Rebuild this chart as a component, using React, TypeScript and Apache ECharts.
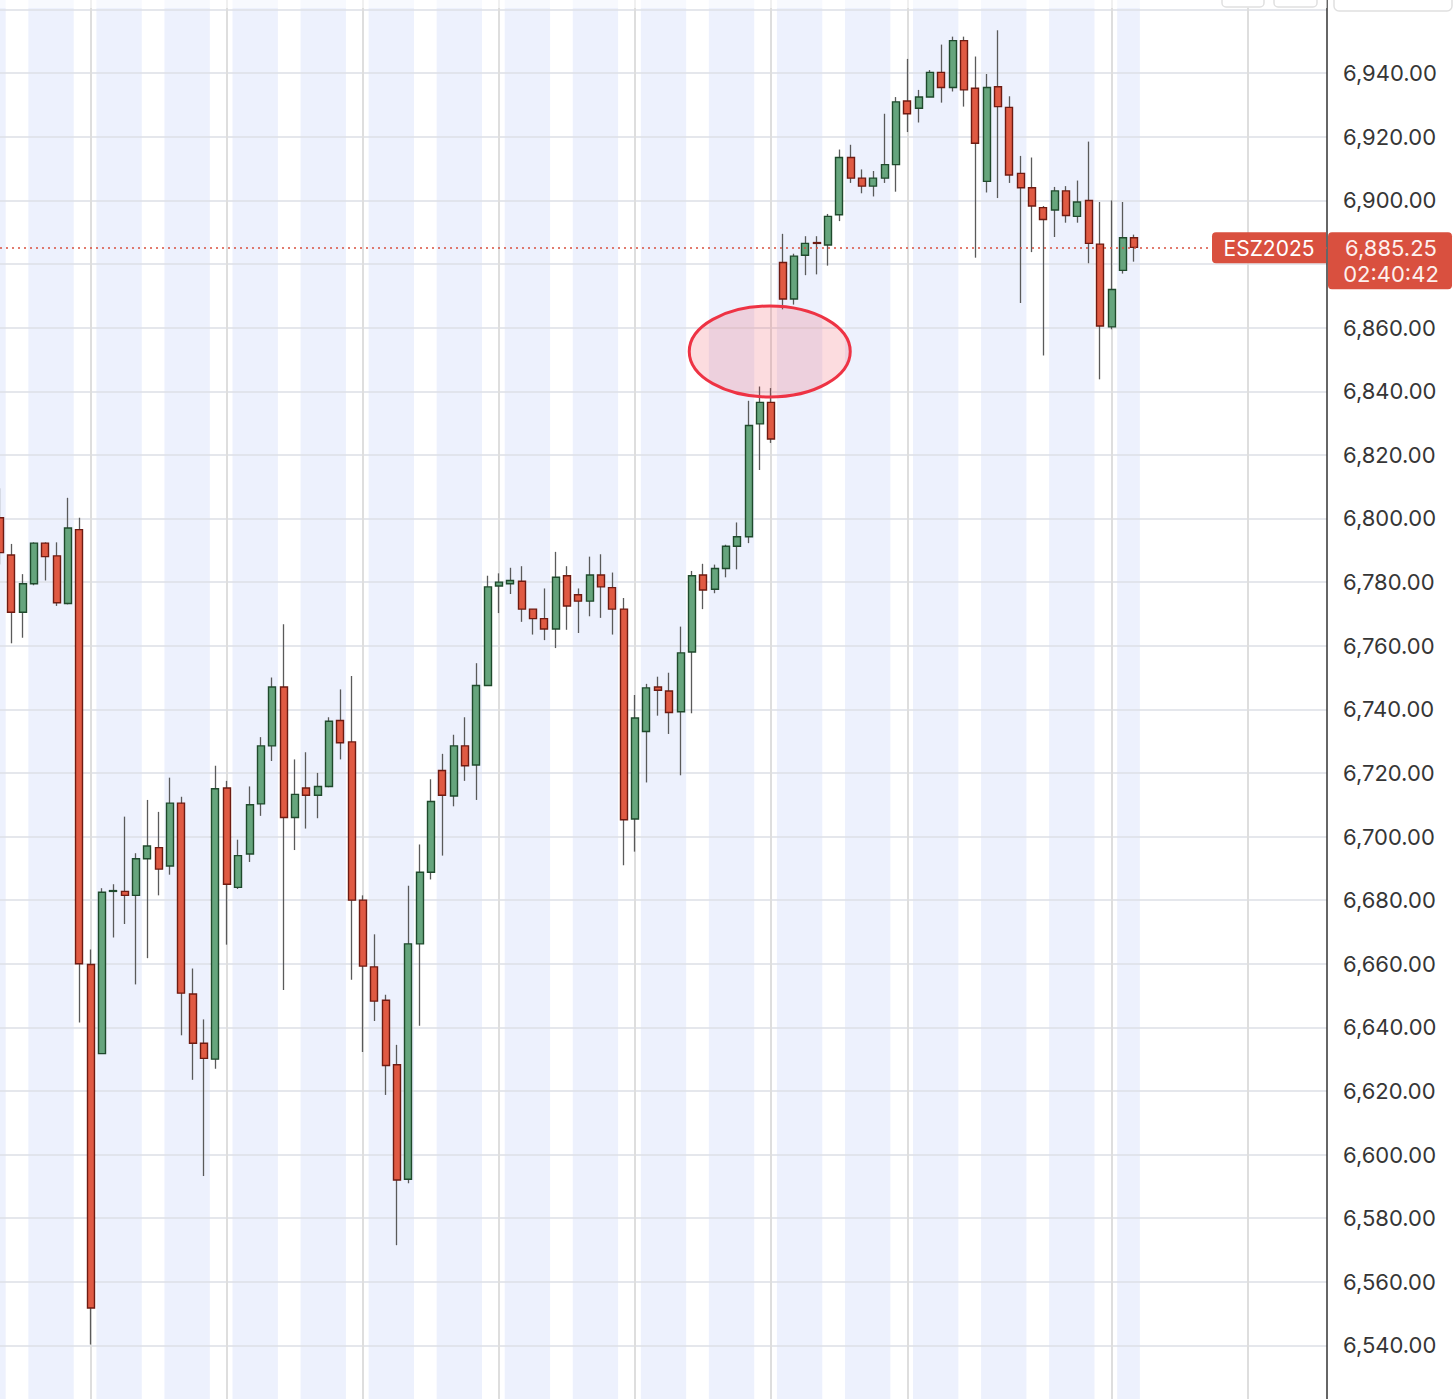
import React, { useEffect, useRef } from "react";
import * as echarts from "echarts";

// ---- data (4h candles, ESZ2025) ----
const opens = [
  6800.25, 6788.5, 6770.5, 6779.5, 6792.25, 6788.25, 6773.25, 6796.5, 6659.75, 6631.75,
  6682.75, 6682.75, 6681.5, 6693, 6696.5, 6690.75, 6710.5, 6650.5, 6635, 6630,
  6715.25, 6684, 6694.5, 6710.25, 6728.5, 6747, 6706, 6715.25, 6713, 6715.75,
  6736.5, 6729.75, 6680, 6659, 6648.5, 6628.25, 6592.25, 6666.25, 6688.75, 6720.75,
  6712.75, 6728.5, 6722.5, 6747.5, 6778.75, 6779.5, 6780.25, 6771.5, 6768.5, 6765.25,
  6782, 6776, 6774, 6782.25, 6778.25, 6771.5, 6705.5, 6733, 6747, 6745.75,
  6739.25, 6758, 6782.25, 6777.75, 6784.25, 6791.25, 6794.25, 6829.75, 6836.5, 6880.5,
  6869, 6882.75, 6886.75, 6886, 6895.5, 6913.5, 6907, 6904.5, 6907, 6911.25,
  6931.25, 6929, 6932.5, 6940.25, 6935.5, 6950.25, 6935.25, 6906, 6935.75, 6929.25,
  6908.5, 6904, 6897.75, 6897, 6903, 6895, 6900, 6886.25, 6860.25, 6878,
  6888.25,
];
const closes = [
  6789.25, 6770.5, 6779.5, 6792.25, 6788, 6773.5, 6797, 6660, 6551.75, 6682.5,
  6683, 6681.5, 6693, 6697, 6689.75, 6710.5, 6650.75, 6635, 6630.25, 6715,
  6685, 6694, 6710, 6728.5, 6747, 6706, 6713.25, 6713, 6715.75, 6736.25,
  6729.5, 6680, 6659.25, 6648.25, 6628, 6592, 6666.25, 6688.75, 6711, 6713,
  6728.5, 6722.25, 6747.5, 6778.5, 6780, 6780.5, 6771.5, 6768.5, 6765.25, 6781.5,
  6772.5, 6774, 6782.25, 6778.5, 6771.5, 6705.25, 6737.25, 6746.75, 6746, 6739,
  6757.75, 6782, 6777.5, 6784.25, 6791.25, 6794.25, 6829.25, 6836.5, 6825, 6869,
  6882.5, 6886.5, 6886.5, 6895, 6913.5, 6907, 6904.5, 6907, 6911.25, 6931,
  6927.25, 6932.5, 6940.25, 6935.5, 6950.25, 6934.75, 6918, 6935.5, 6929.5, 6908,
  6904, 6898.25, 6894, 6903, 6895.25, 6899.5, 6886.5, 6860.5, 6872, 6888.25,
  6885.25,
];
const lows = [
  6785.5, 6760.75, 6762.5, 6779, 6780.5, 6772.5, 6773, 6641.5, 6540.25, 6631.75,
  6668.25, 6672.5, 6653.5, 6661.75, 6681.5, 6688, 6637.5, 6623.5, 6593.25, 6627,
  6666, 6683.5, 6692, 6706.5, 6723.75, 6651.75, 6695.75, 6702.5, 6705.75, 6715.5,
  6724.25, 6655, 6632.25, 6642, 6618.75, 6571.5, 6591, 6640.5, 6686.5, 6694,
  6709.5, 6717.5, 6711.5, 6747.5, 6770.25, 6776.25, 6767.5, 6763.5, 6761.75, 6759.25,
  6765, 6764, 6769.25, 6768.75, 6763.5, 6691, 6695.25, 6717, 6738, 6732.25,
  6719.25, 6738.75, 6771.5, 6776.5, 6781.5, 6784, 6792.25, 6815.25, 6823.75, 6865.75,
  6867.25, 6876.5, 6876.75, 6879.5, 6893.5, 6905.5, 6902.25, 6901.25, 6905.5, 6902.75,
  6921.5, 6924.5, 6932.5, 6930.75, 6934.25, 6929.5, 6882, 6902.5, 6900.75, 6905.5,
  6867.75, 6883.75, 6851.25, 6888.5, 6893, 6893, 6880.25, 6843.75, 6859.5, 6877,
  6880.75,
];
const highs = [
  6809.5, 6792, 6782.5, 6792.5, 6792.5, 6792.5, 6806.5, 6800.25, 6664.5, 6683.75,
  6685, 6706.25, 6694.75, 6711.5, 6707.75, 6718.5, 6712.5, 6658.5, 6642.5, 6722.25,
  6717.5, 6699, 6715.75, 6731.25, 6750, 6766.75, 6724.25, 6726.5, 6720, 6737.5,
  6746.25, 6750.5, 6681.5, 6669.25, 6650.25, 6634.5, 6684.5, 6697.5, 6718, 6726,
  6732, 6737.5, 6754.5, 6782, 6782.75, 6784.5, 6785, 6771.5, 6778, 6789.5,
  6785, 6778, 6788, 6788.75, 6783, 6775, 6744.5, 6748, 6750.25, 6751.5,
  6766, 6783.5, 6785.75, 6785.5, 6791.75, 6798.75, 6837, 6841.5, 6841, 6889.5,
  6883.25, 6888.75, 6888.75, 6895.75, 6916, 6917.5, 6909.75, 6909.25, 6927.25, 6932.5,
  6944.5, 6934.75, 6941, 6949, 6951.5, 6951.5, 6945.25, 6939.75, 6953.5, 6932.75,
  6914, 6913.5, 6898.25, 6904.25, 6904.5, 6906.25, 6918.5, 6899.5, 6900, 6899.5,
  6889.25,
];
// 101 candles + empty future slots to the right edge
const slotCount = 118;
const categories = Array.from({ length: slotCount }, (_, i) => String(i));

// shaded (overnight) session ranges, as [first candle, last candle]
const sessionBands = [
  [0, 0], [3, 6], [9, 12], [15, 18], [21, 24], [27, 30], [33, 36], [39, 42], [45, 48],
  [51, 54], [57, 60], [63, 66], [69, 72], [75, 78], [81, 84], [87, 90], [93, 96], [99, 100],
];
// vertical separators (candle slots)
const dividerIdx = [8, 20, 32, 44, 56, 68, 80, 98, 110];

const yMin = 6520;
const yMax = 6980;
const yStep = 20;
const yLabelMax = 6950;

const symbolLabel = "ESZ2025";
const clockLabel = "02:40:42";
const gapMarker = { index: 68, value: 6852.5 };

const FONT = "Inter, 'Open Sans', Roboto, sans-serif";
const RED = "#d9503f";

export default function App() {
  const ref = useRef<HTMLDivElement>(null);

  useEffect(() => {
    if (!ref.current) return;
    const chart = echarts.init(ref.current, null, { renderer: "svg" });
    const fmt = (v: number) =>
      v.toLocaleString("en-US", { minimumFractionDigits: 2, maximumFractionDigits: 2 });
    const lastClose = closes[closes.length - 1];
    const wickData = opens.map((o, i) => [o, closes[i], lows[i], highs[i]]);
    const bodyData = opens.map((o, i) => [o, closes[i], Math.min(o, closes[i]), Math.max(o, closes[i])]);
    const dividerSet = new Set(dividerIdx);
    // axis labels hidden behind the price tag (tag spans ~ +5 / -13 points around the price)
    const hiddenByTag = (v: number) => v < lastClose + 6 && v > lastClose - 14;

    const option: any = {
      animation: false,
      backgroundColor: "#ffffff",
      grid: {
        left: 0,
        top: 6,
        width: 1327,
        height: 1463,
        containLabel: false,
        outerBoundsMode: "none",
      },
      xAxis: {
        type: "category",
        data: categories,
        boundaryGap: false,
        axisLine: { show: false },
        axisTick: { show: false },
        axisLabel: { show: false },
        splitLine: {
          show: true,
          interval: (i: number) => dividerSet.has(i),
          lineStyle: { color: "#dedede", width: 2 },
        },
      },
      yAxis: {
        type: "value",
        position: "right",
        min: yMin,
        max: yMax,
        interval: yStep,
        axisLine: { show: true, lineStyle: { color: "#333333", width: 1.5 } },
        axisTick: { show: false },
        axisLabel: {
          margin: 16,
          fontSize: 22,
          color: "#363636",
          fontFamily: FONT,
          formatter: (v: number) => (v > yLabelMax || hiddenByTag(v) ? "" : fmt(v)),
        },
        splitLine: { show: true, lineStyle: { color: "#dcdfe6", width: 1.5 } },
      },
      series: [
        {
          type: "custom",
          z: -1,
          silent: true,
          encode: { x: [0, 1] },
          data: sessionBands,
          renderItem: (params: any, api: any) => {
            const s = api.value(0) as number;
            const e = api.value(1) as number;
            const w = (api.size([1, 0]) as number[])[0];
            const x0 = api.coord([s, 6600])[0] - w / 2;
            const x1 = api.coord([e, 6600])[0] + w / 2;
            const cs = params.coordSys;
            return {
              type: "rect",
              shape: { x: x0, y: cs.y, width: x1 - x0, height: cs.height },
              style: { fill: "#edf1fd" },
            };
          },
        },
        {
          type: "candlestick",
          silent: true,
          data: wickData,
          barWidth: 1,
          itemStyle: {
            color: "#5a5a5a",
            color0: "#5a5a5a",
            borderColor: "#5a5a5a",
            borderColor0: "#5a5a5a",
            borderWidth: 1.3,
          },
        },
        {
          type: "candlestick",
          silent: true,
          data: bodyData,
          barWidth: 7.5,
          itemStyle: {
            color: "#66a57d",
            color0: "#e05a43",
            borderColor: "#1f4a2c",
            borderColor0: "#6e1b12",
            borderWidth: 1.4,
          },
          markLine: {
            silent: true,
            symbol: ["none", "none"],
            label: { show: false },
            lineStyle: { color: RED, type: [2, 4], width: 1.5 },
            data: [{ yAxis: lastClose }],
          },
        },
      ],
    };
    chart.setOption(option);

    const py = chart.convertToPixel({ yAxisIndex: 0 }, lastClose) as number;
    const ep = chart.convertToPixel({ gridIndex: 0 }, [gapMarker.index, gapMarker.value]) as number[];

    chart.setOption({
      graphic: [
        // faded strip at the very top
        { type: "rect", z: 50, silent: true, shape: { x: 0, y: 60, width: 1327, height: 8 }, style: { fill: "rgba(255,255,255,0.55)" } },
        // toolbar buttons cut by the top edge
        { type: "rect", z: 60, silent: true, shape: { x: 1222, y: 46, width: 42, height: 21, r: 4 }, style: { fill: "#ffffff", stroke: "#e0e0e0", lineWidth: 1.5 } },
        { type: "rect", z: 60, silent: true, shape: { x: 1274, y: 46, width: 43, height: 21, r: 4 }, style: { fill: "#ffffff", stroke: "#e0e0e0", lineWidth: 1.5 } },
        { type: "rect", z: 60, silent: true, shape: { x: 1334, y: 46, width: 118, height: 25, r: 5 }, style: { fill: "#ffffff", stroke: "#e0e0e0", lineWidth: 1.5 } },
        // gap highlight
        {
          type: "ellipse",
          z: 40,
          silent: true,
          shape: { cx: ep[0] - 1.5, cy: ep[1], rx: 80.5, ry: 45.5 },
          style: { fill: "rgba(240,60,80,0.18)", stroke: "#ee3344", lineWidth: 3 },
        },
        // symbol tag
        { type: "rect", z: 60, silent: true, shape: { x: 1212, y: py - 15, width: 114, height: 31, r: [4, 0, 0, 4] }, style: { fill: RED } },
        {
          type: "text", z: 61, silent: true,
          style: { x: 1269, y: py + 1, text: symbolLabel, fill: "#ffffff", fontSize: 21, fontFamily: FONT, align: "center", verticalAlign: "middle" },
        },
        // price tag on the axis
        { type: "rect", z: 60, silent: true, shape: { x: 1328, y: py - 15, width: 124, height: 57, r: 4 }, style: { fill: RED } },
        {
          type: "text", z: 61, silent: true,
          style: {
            x: 1391,
            y: py + 14,
            text: fmt(lastClose) + "\n" + clockLabel,
            lineHeight: 26,
            fill: "#fdf0ee",
            fontSize: 22,
            fontFamily: FONT,
            align: "center",
            verticalAlign: "middle",
          },
        },
      ],
    });

    return () => chart.dispose();
  }, []);

  return (
    <div
      ref={ref}
      style={{ position: "fixed", left: 0, top: -60, width: 1456, height: 1480, background: "#ffffff" }}
    />
  );
}
